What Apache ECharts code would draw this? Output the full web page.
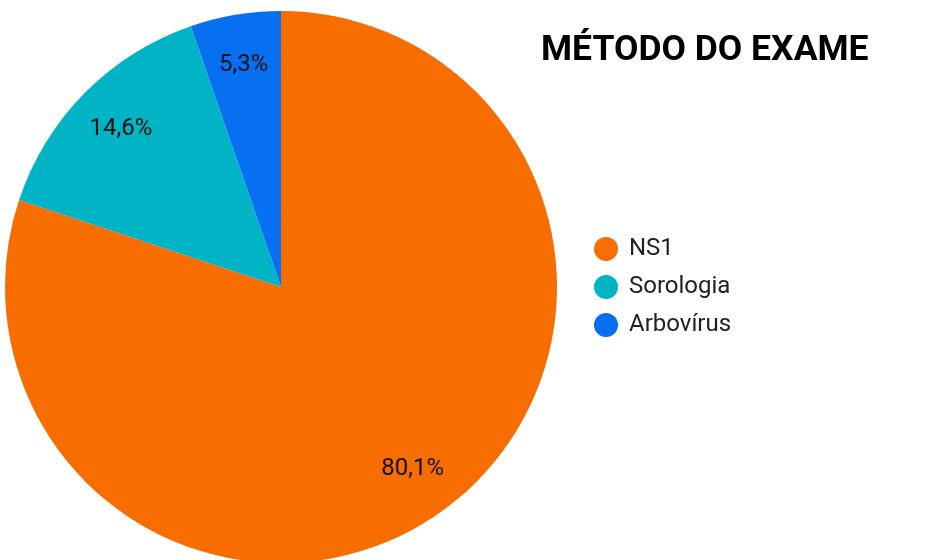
<!DOCTYPE html>
<html>
<head>
<meta charset="utf-8">
<script src="https://cdn.jsdelivr.net/npm/echarts@6/dist/echarts.min.js"></script>
<style>
  html, body { margin: 0; padding: 0; background: #fff; }
  #chart { width: 937px; height: 560px; }
</style>
</head>
<body>
<div id="chart"></div>
<script>
var categories = ['NS1', 'Sorologia', 'Arbovírus']
var values = [80.1, 14.6, 5.3]
var colors = ['#F76D00', '#00B4C6', '#0670F0']

var pieData = categories.map(function (name, i) {
  return { name: name, value: values[i], itemStyle: { color: colors[i] } }
})

var chart = echarts.init(document.getElementById('chart'))
chart.setOption({
  animation: false,
  textStyle: { fontFamily: 'Roboto' },
  title: {
    text: 'MÉTODO DO EXAME',
    left: 541,
    top: 33,
    padding: 0,
    textStyle: { fontFamily: 'Roboto', fontWeight: 'bold', fontSize: 35.5, color: '#000' }
  },
  legend: {
    orient: 'vertical',
    left: 594,
    top: 237,
    padding: 0,
    icon: 'circle',
    itemWidth: 24,
    itemHeight: 24,
    itemGap: 14,
    selectedMode: false,
    data: categories,
    textStyle: { fontFamily: 'Roboto', fontSize: 24, color: '#222', padding: [0, 0, 0, 6] }
  },
  series: [
    {
      type: 'pie',
      center: [281, 287],
      radius: [0, 276],
      startAngle: 90,
      clockwise: true,
      silent: true,
      label: { show: false },
      labelLine: { show: false },
      data: pieData
    },
    {
      // label ring only, so labels sit at about 0.8 of the radius
      type: 'pie',
      center: [281, 287],
      radius: [168, 276],
      startAngle: 90,
      clockwise: true,
      silent: true,
      itemStyle: { color: 'transparent' },
      label: {
        show: true,
        position: 'inside',
        fontFamily: 'Roboto',
        fontSize: 24,
        color: '#111',
        formatter: function (p) { return p.value.toFixed(1).replace('.', ',') + '%' }
      },
      labelLine: { show: false },
      data: categories.map(function (name, i) { return { name: name, value: values[i] } })
    }
  ]
})
</script>
</body>
</html>
